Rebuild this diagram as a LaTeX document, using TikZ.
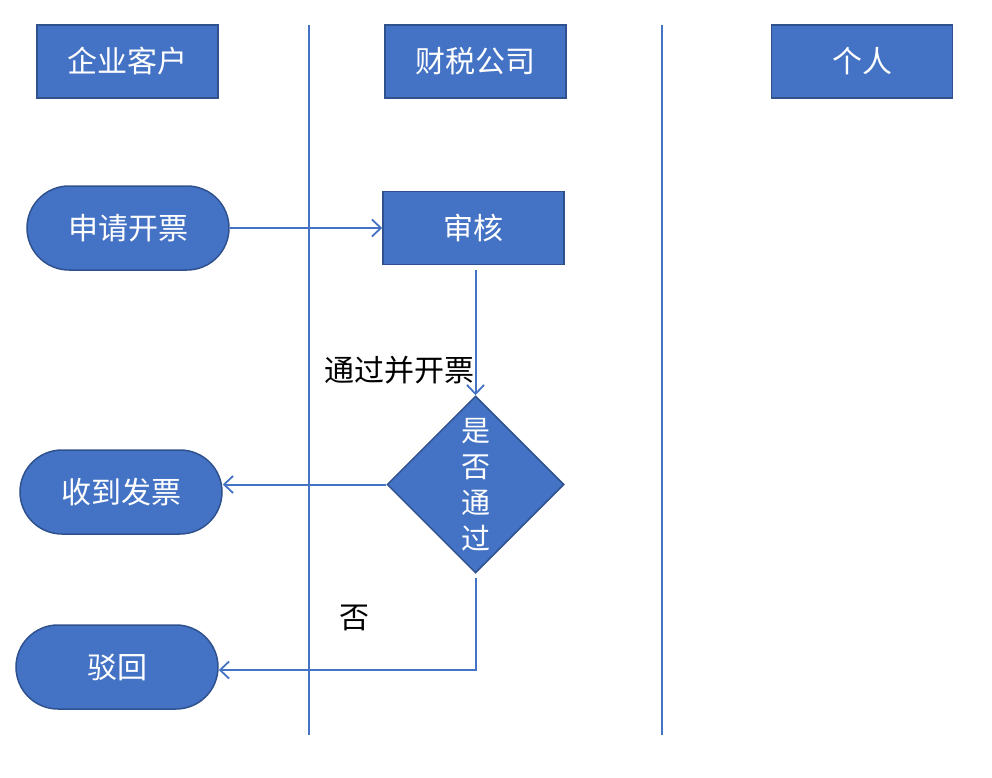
\documentclass[tikz,border=0pt]{standalone}
\usepackage{fontspec}
\newfontfamily\cjk{Noto Sans CJK SC}
\usetikzlibrary{shapes.geometric,shapes.misc,arrows.meta}
\definecolor{ofblue}{HTML}{4472C4}
\definecolor{ofdark}{HTML}{2F528F}
\begin{document}
\begin{tikzpicture}[x=1pt,y=-1pt,
  hdr/.style={draw=ofdark,line width=1.5pt,fill=ofblue,text=white,font=\cjk\fontsize{30}{33}\selectfont,minimum width=181pt,minimum height=73pt,inner sep=0pt},
  pill/.style={rounded rectangle,draw=ofdark,line width=1.5pt,fill=ofblue,text=white,font=\cjk\fontsize{30}{33}\selectfont,minimum width=202pt,minimum height=84pt,inner sep=0pt},
  dec/.style={diamond,draw=ofdark,line width=1.5pt,fill=ofblue,text=white,font=\cjk\fontsize{29}{36}\selectfont,minimum width=177pt,minimum height=177pt,inner sep=0pt,align=center},
  lane/.style={draw=ofblue,line width=2pt},
  conn/.style={draw=ofblue,line width=2pt,-{Straight Barb[length=9pt,width=17pt,line width=1.8pt]}},
  lbl/.style={text=black,font=\cjk\fontsize{30}{33}\selectfont,inner sep=0pt}]
\useasboundingbox (0,0) rectangle (992,778);
% lanes
\coordinate (l1t) at (309,25); \coordinate (l1b) at (309,735);
\coordinate (l2t) at (662,25); \coordinate (l2b) at (662,735);
\draw[lane] (l1t) -- (l1b);
\draw[lane] (l2t) -- (l2b);
% headers
\node[hdr] (h1) at (127.5,61.5) {企业客户};
\node[hdr] (h2) at (475.5,61.5) {财税公司};
\node[hdr] (h3) at (862,61.5) {个人};
% nodes
\node[pill] (sq) at (128,228) {申请开票};
\node[hdr] (sh) at (473.5,228) {审核};
\node[dec] (pd) at (475.5,484.5) {是\\否\\通\\过};
\node[pill] (rec) at (121,492) {收到发票};
\node[pill] (rej) at (117,667) {驳回};
% connectors
\draw[conn] (sq.east) -- (sq.east -| sh.west);
\draw[conn] ([yshift=-5pt]pd.north |- sh.south) -- (pd.north);
\draw[conn] (pd.west) -- (pd.west -| rec.east);
\coordinate (rj) at (rej.east |- 0,670);
\draw[conn] ([yshift=-4pt]pd.south) |- (rj);
% labels
\node[lbl] (t1) at (399,370) {通过并开票};
\node[lbl] (t2) at (354,618) {否};
\end{tikzpicture}
\end{document}
